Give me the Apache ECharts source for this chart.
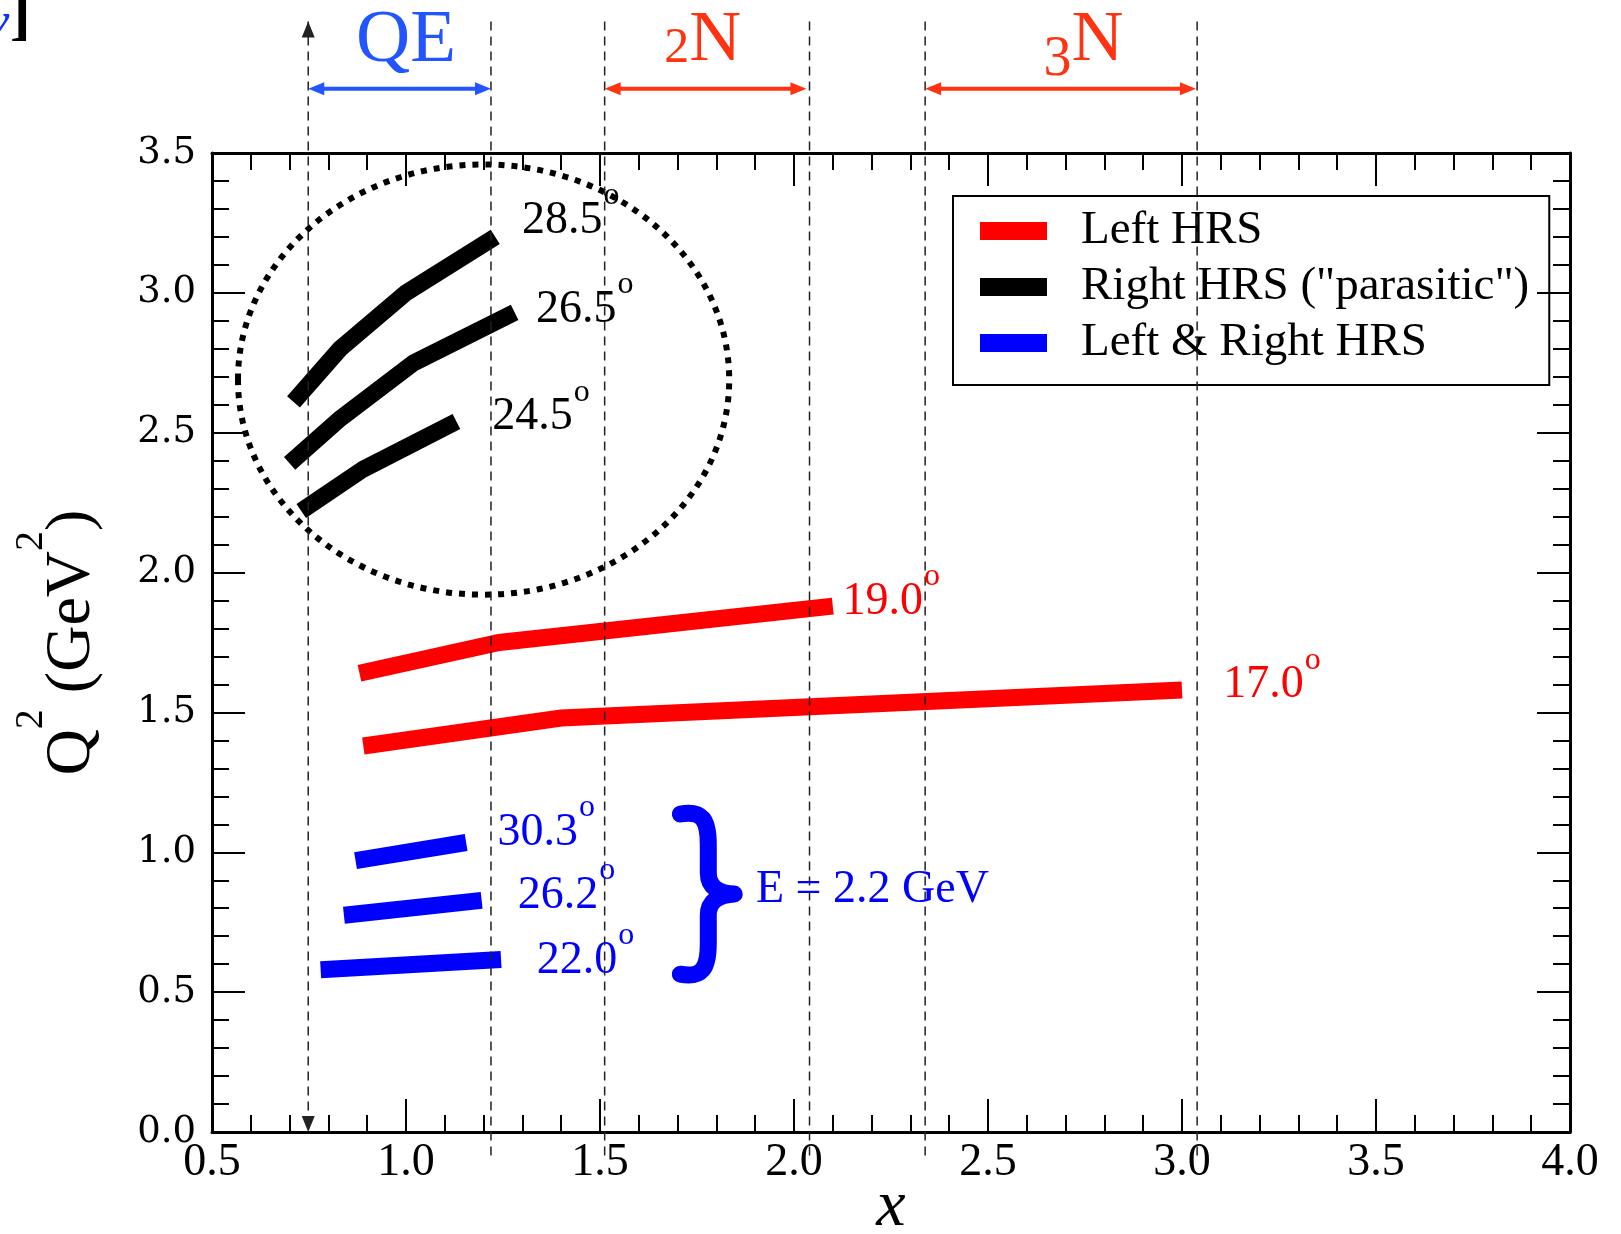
<!DOCTYPE html>
<html>
<head>
<meta charset="utf-8">
<title>Q2 versus x coverage</title>
<script src="https://cdn.jsdelivr.net/npm/echarts@6/dist/echarts.min.js"></script>
<style>
  html, body { margin: 0; padding: 0; background: #fff; }
  #chart { width: 1621px; height: 1234px; }
</style>
</head>
<body>
<div id="chart"></div>
<script>
// kinematic settings, points are [x, Q2]
const left19_0 = [[0.88, 1.64], [1.24, 1.75], [2.10, 1.88]];
const left17_0 = [[0.89, 1.38], [1.40, 1.48], [3.00, 1.58]];
const right28_5 = [[0.71, 2.61], [0.83, 2.80], [1.00, 3.00], [1.23, 3.20]];
const right26_5 = [[0.70, 2.39], [0.83, 2.55], [1.02, 2.75], [1.28, 2.93]];
const right24_5 = [[0.73, 2.22], [0.89, 2.37], [1.13, 2.54]];
const both30_3 = [[0.87, 0.97], [1.155, 1.035]];
const both26_2 = [[0.84, 0.775], [1.195, 0.828]];
const both22_0 = [[0.78, 0.58], [1.245, 0.617]];

// angle labels
const angleText = ['28.5', '26.5', '24.5', '19.0', '17.0', '30.3', '26.2', '22.0'];
const angleX = [1.299, 1.335, 1.222, 2.125, 3.106, 1.236, 1.288, 1.337];
const angleY = [3.258, 2.939, 2.555, 1.896, 1.597, 1.071, 0.845, 0.612];

// x regions on top
const guideX = [0.748, 1.219, 1.512, 2.040, 2.338, 3.039];
const regionNames = ['QE', '2N', '3N'];
const regionFrom = [0.748, 1.512, 2.338];
const regionTo = [1.219, 2.032, 3.036];
const regionNameX = [1.0, 1.765, 2.746];

// dotted circle round the parasitic settings: centre and radii
const circleCentre = [1.20, 2.69];
const circleRadius = [0.633, 0.769];

const beamNote = 'E = 2.2 GeV';

const GUIDE_TOP = 3.97, GUIDE_BOTTOM = -0.09;
const REGION_Y = 3.73, REGION_NAME_Y = 3.90;
const RED = '#ff0000', BLACK = '#000000', BLUE = '#0000ff';
const labelColors = [BLACK, BLACK, BLACK, RED, RED, BLUE, BLUE, BLUE];
const SERIF = '"Liberation Serif", "Times New Roman", serif';

const names = ['Left HRS', 'Right HRS ("parasitic")', 'Left & Right HRS'];

const ctx = document.createElement('canvas').getContext('2d');
function textWidth(s, font) {
  ctx.font = font;
  return ctx.measureText(s).width;
}

function hrsLine(name, color, data) {
  return {
    type: 'line', name: name, data: data,
    symbol: 'none', showSymbol: false, silent: true, z: 3,
    itemStyle: { color: color },
    lineStyle: { color: color, width: 17, cap: 'butt', join: 'miter' }
  };
}

function arrowHead(tip, dx, dy, color) {
  // dx, dy: unit direction the head points to
  const len = 16, half = 6.5;
  const bx = tip[0] - dx * len, by = tip[1] - dy * len;
  return {
    type: 'polygon',
    shape: { points: [tip, [bx - dy * half, by + dx * half], [bx + dy * half, by - dx * half]] },
    style: { fill: color }
  };
}

const chart = echarts.init(document.getElementById('chart'));

const axisCommon = {
  type: 'value',
  splitLine: { show: false },
  axisLine: { onZero: false, lineStyle: { color: '#000', width: 3 } },
  axisTick: { inside: true, length: 33, lineStyle: { color: '#000', width: 2 } },
  minorTick: { show: true, splitNumber: 5, length: 17, lineStyle: { color: '#000', width: 2 } }
};

const option = {
  animation: false,
  backgroundColor: '#fff',
  grid: { left: 212, right: 51, top: 153, bottom: 102, containLabel: false, outerBoundsMode: 'none' },
  legend: {
    orient: 'vertical', left: 953, top: 196,
    padding: [10, 20, 17, 27],
    itemWidth: 67, itemHeight: 18, itemGap: 6,
    icon: 'rect', selectedMode: false,
    borderColor: '#000', borderWidth: 2,
    textStyle: { fontFamily: SERIF, fontSize: 47, color: '#000', lineHeight: 50, padding: [0, 0, 0, 29] },
    data: names
  },
  xAxis: [
    Object.assign({}, axisCommon, {
      min: 0.5, max: 4, interval: 0.5, position: 'bottom',
      name: 'x', nameLocation: 'middle', nameGap: 43, nameMoveOverlap: false,
      nameTextStyle: { fontFamily: SERIF, fontStyle: 'italic', fontSize: 66, color: '#000' },
      axisLabel: { formatter: v => v.toFixed(1), fontFamily: SERIF, fontSize: 46, color: '#000', margin: 8 }
    }),
    Object.assign({}, axisCommon, {
      min: 0.5, max: 4, interval: 0.5, position: 'top',
      axisLabel: { show: false }
    })
  ],
  yAxis: [
    Object.assign({}, axisCommon, {
      min: 0, max: 3.5, interval: 0.5, position: 'left',
      name: '{q|Q}{s|2}{q| (GeV}{s|2}{q|)}', nameLocation: 'middle', nameGap: 108, nameRotate: 90,
      nameTextStyle: {
        rich: {
          q: { fontFamily: SERIF, fontSize: 64, padding: [29, 0, 0, 0], verticalAlign: 'bottom', color: '#000' },
          s: { fontFamily: SERIF, fontSize: 40, verticalAlign: 'top', color: '#000' }
        }
      },
      axisLabel: { formatter: v => v.toFixed(1), fontFamily: '"DejaVu Serif", serif', fontSize: 37, color: '#000', margin: 16 }
    }),
    Object.assign({}, axisCommon, {
      min: 0, max: 3.5, interval: 0.5, position: 'right',
      axisLabel: { show: false }
    })
  ],
  graphic: [
    { type: 'text', x: 9, y: 23, style: { text: 'v', fill: '#1030ff', font: 'italic bold 46px ' + SERIF, align: 'right', verticalAlign: 'middle' } },
    { type: 'text', x: 10, y: 17, style: { text: ']', fill: '#000', font: 'bold 62px ' + SERIF, align: 'left', verticalAlign: 'middle' } }
  ],
  series: [
    hrsLine(names[0], RED, left19_0),
    hrsLine(names[0], RED, left17_0),
    hrsLine(names[1], BLACK, right28_5),
    hrsLine(names[1], BLACK, right26_5),
    hrsLine(names[1], BLACK, right24_5),
    hrsLine(names[2], BLUE, both30_3),
    hrsLine(names[2], BLUE, both26_2),
    hrsLine(names[2], BLUE, both22_0),
    {
      // dotted circle
      type: 'custom', silent: true, clip: false, z: 4,
      data: [[circleCentre[0], circleCentre[1], circleRadius[0], circleRadius[1]]],
      renderItem: function (params, api) {
        const c = api.coord([api.value(0), api.value(1)]);
        const s = api.size([api.value(2), api.value(3)]);
        return {
          type: 'ellipse',
          shape: { cx: c[0], cy: c[1], rx: s[0], ry: s[1] },
          style: { fill: 'none', stroke: '#000', lineWidth: 6, lineDash: [6, 7] }
        };
      }
    },
    {
      // dashed vertical guides
      type: 'custom', silent: true, clip: false, z: 6,
      data: guideX.map((x, i) => [x, i === 0 ? 0 : GUIDE_BOTTOM]),
      renderItem: function (params, api) {
        const top = api.coord([api.value(0), GUIDE_TOP]);
        const bot = api.coord([api.value(0), api.value(1)]);
        const children = [{
          type: 'line',
          shape: { x1: top[0], y1: top[1], x2: bot[0], y2: bot[1] },
          style: { stroke: '#222', lineWidth: 1.5, lineDash: [9, 6] }
        }];
        if (params.dataIndex === 0) {
          children.push(arrowHead(top, 0, -1, '#222'));
          children.push(arrowHead(bot, 0, 1, '#222'));
        }
        return { type: 'group', children: children };
      }
    },
    {
      // QE / 2N / 3N ranges
      type: 'custom', silent: true, clip: false, z: 6,
      data: regionFrom.map((x, i) => [x, REGION_Y, regionTo[i], regionNameX[i]]),
      renderItem: function (params, api) {
        const i = params.dataIndex;
        const color = i === 0 ? '#2255ff' : '#ff3311';
        const a = api.coord([api.value(0), api.value(1)]);
        const b = api.coord([api.value(2), api.value(1)]);
        const t = api.coord([api.value(3), REGION_NAME_Y]);
        const name = regionNames[i];
        const children = [
          { type: 'line', shape: { x1: a[0] + 10, y1: a[1], x2: b[0] - 10, y2: b[1] }, style: { stroke: color, lineWidth: 4 } },
          arrowHead(a, -1, 0, color),
          arrowHead(b, 1, 0, color)
        ];
        if (i === 0) {
          children.push({ type: 'text', x: t[0], y: t[1], style: { text: name, fill: color, font: '75px ' + SERIF, align: 'center', verticalAlign: 'middle' } });
        } else {
          // old-style digit in front of N
          const nFont = '72px ' + SERIF;
          const dSize = i === 1 ? 50 : 56;
          const wd = textWidth(name[0], dSize + 'px ' + SERIF), wn = textWidth(name.slice(1), nFont);
          const x0 = t[0] - (wd + wn) / 2;
          children.push({ type: 'text', x: x0, y: t[1] + (i === 1 ? 8 : 19), style: { text: name[0], fill: color, fontSize: dSize, fontFamily: SERIF, align: 'left', verticalAlign: 'middle' } });
          children.push({ type: 'text', x: x0 + wd, y: t[1], style: { text: name.slice(1), fill: color, font: nFont, align: 'left', verticalAlign: 'middle' } });
        }
        return { type: 'group', children: children };
      }
    },
    {
      // angle labels with degree mark
      type: 'custom', silent: true, clip: false, z: 7,
      data: angleX.map((x, i) => [x, angleY[i]]),
      renderItem: function (params, api) {
        const i = params.dataIndex;
        const p = api.coord([api.value(0), api.value(1)]);
        const font = '46px ' + SERIF;
        const w = textWidth(angleText[i], font);
        return {
          type: 'group',
          children: [
            { type: 'text', x: p[0], y: p[1], style: { text: angleText[i], fill: labelColors[i], font: font, align: 'left', verticalAlign: 'middle' } },
            { type: 'text', x: p[0] + w + 1, y: p[1] - 25, style: { text: 'o', fill: labelColors[i], font: '32px ' + SERIF, align: 'left', verticalAlign: 'middle' } }
          ]
        };
      }
    },
    {
      // brace and beam energy note
      type: 'custom', silent: true, clip: false, z: 7,
      data: [[1.707, 1.140, 1.846, 0.561, 1.902, 0.864]],
      renderItem: function (params, api) {
        const tl = api.coord([api.value(0), api.value(1)]);
        const br = api.coord([api.value(2), api.value(3)]);
        const n = api.coord([api.value(4), api.value(5)]);
        return {
          type: 'group',
          children: [
            {
              type: 'path',
              shape: {
                pathData: 'M 8 10 C 30 6 36 16 36 40 L 36 68 C 36 82 46 88 62 89 C 46 90 36 96 36 110 L 36 138 C 36 162 30 172 8 168',
                x: tl[0], y: tl[1], width: br[0] - tl[0], height: br[1] - tl[1], layout: 'cover'
              },
              style: { fill: 'none', stroke: BLUE, lineWidth: 17, lineCap: 'round', lineJoin: 'round' }
            },
            { type: 'text', x: n[0], y: n[1], style: { text: beamNote, fill: BLUE, font: '46px ' + SERIF, align: 'left', verticalAlign: 'middle' } }
          ]
        };
      }
    }
  ]
};

chart.setOption(option);
</script>
</body>
</html>
